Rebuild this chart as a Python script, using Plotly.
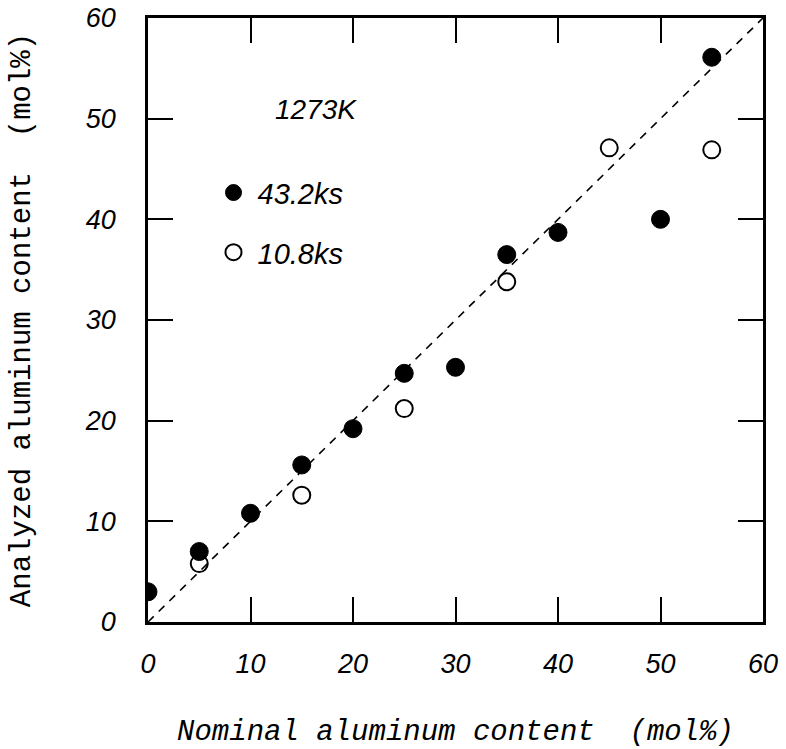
import plotly.graph_objects as go

# Nominal vs analyzed aluminum content (mol%) at 1273K
nominal_432 = [0, 5, 10, 15, 20, 25, 30, 35, 40, 50, 55]
analyzed_432 = [3.0, 7.0, 10.8, 15.6, 19.2, 24.7, 25.3, 36.5, 38.7, 40.0, 56.1]

nominal_108 = [5, 15, 25, 35, 45, 55]
analyzed_108 = [5.8, 12.6, 21.2, 33.8, 47.1, 46.9]

ideal_line = [0, 60]
tick_vals = [0, 10, 20, 30, 40, 50, 60]

MONO = "Liberation Mono"
SANS = "Liberation Sans"

fig = go.Figure()

fig.add_trace(go.Scatter(
    x=ideal_line, y=ideal_line, mode="lines",
    line=dict(color="black", width=1.6, dash="8px,7px"),
    showlegend=False, hoverinfo="skip",
))

fig.add_trace(go.Scatter(
    x=nominal_432, y=analyzed_432, mode="markers", name="43.2ks",
    legendgroup="a",
    marker=dict(symbol="circle", size=18, color="black",
                line=dict(color="black", width=1)),
))

fig.add_trace(go.Scatter(
    x=nominal_108, y=analyzed_108, mode="markers", name="10.8ks",
    legendgroup="b",
    marker=dict(symbol="circle-open", size=17, color="black",
                line=dict(color="black", width=2)),
))

axis_common = dict(
    range=[0, 60], tickvals=tick_vals,
    ticks="inside", ticklen=25, tickwidth=2, tickcolor="black",
    showline=True, linecolor="black", linewidth=2.5, mirror="ticks",
    showgrid=False, zeroline=False, automargin=False,
    tickfont=dict(family=SANS, size=27, color="black", style="italic"),
)

fig.update_layout(
    width=786, height=749,
    margin=dict(l=148, r=23, t=18, b=127),
    paper_bgcolor="white", plot_bgcolor="white",
    xaxis=dict(
        **axis_common,
        ticklabelstandoff=16,
        title=dict(text="Nominal aluminum content  (mol%)",
                   font=dict(family=MONO, size=29, color="black", style="italic"),
                   standoff=44),
    ),
    yaxis=dict(
        **axis_common,
        ticklabelstandoff=24,
        title=dict(text="Analyzed aluminum content  (mol%)",
                   font=dict(family=MONO, size=29, color="black"),
                   standoff=46),
    ),
    legend=dict(
        x=0.1, y=0.753, xanchor="left", yanchor="top",
        bgcolor="rgba(0,0,0,0)", borderwidth=0,
        font=dict(family=SANS, size=29, color="black", style="italic"),
        tracegroupgap=19, itemwidth=38,
    ),
    annotations=[dict(
        x=0.273, y=0.848, xref="paper", yref="paper",
        xanchor="center", yanchor="middle",
        text="1273K", showarrow=False,
        font=dict(family=SANS, size=28, color="black", style="italic"),
    )],
)

fig.write_html("out.html")
